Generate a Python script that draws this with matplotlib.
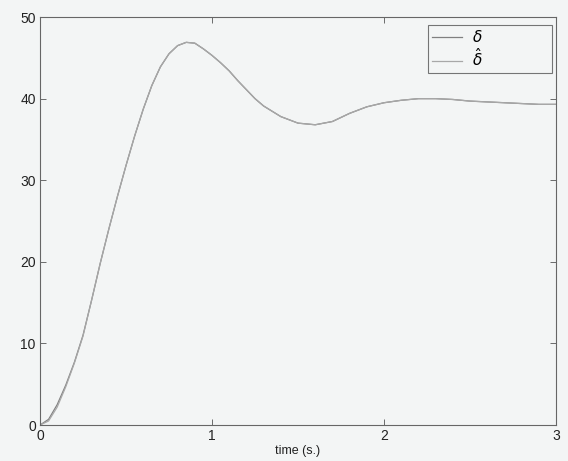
import numpy as np
import matplotlib.pyplot as plt

plt.rcParams['font.family'] = ['Liberation Sans', 'DejaVu Sans']

# time (s.) and the two responses
t = [0, 0.05, 0.1, 0.15, 0.2, 0.25, 0.3, 0.35, 0.4, 0.45, 0.5, 0.55, 0.6,
     0.65, 0.7, 0.75, 0.8, 0.85, 0.9, 0.95, 1.0, 1.05, 1.1, 1.15, 1.2, 1.25,
     1.3, 1.4, 1.5, 1.6, 1.7, 1.8, 1.9, 2.0, 2.1, 2.2, 2.3, 2.4, 2.5, 2.6,
     2.7, 2.8, 2.9, 3.0]
delta = [0, 0.7, 2.5, 4.9, 7.7, 11.0, 15.3, 19.8, 24.0, 28.0, 31.8, 35.4, 38.7,
         41.6, 43.9, 45.5, 46.5, 46.9, 46.8, 46.1, 45.3, 44.4, 43.4, 42.2,
         41.1, 40.0, 39.1, 37.8, 37.0, 36.8, 37.2, 38.2, 39.0, 39.5, 39.8,
         40.0, 40.0, 39.9, 39.7, 39.6, 39.5, 39.4, 39.3, 39.3]
delta_hat = [0, 0.5, 2.2, 4.7, 7.6, 10.9, 15.3, 19.8, 24.0, 28.0, 31.8, 35.4, 38.7,
             41.6, 43.9, 45.5, 46.5, 46.9, 46.8, 46.1, 45.3, 44.4, 43.4, 42.2,
             41.1, 40.0, 39.1, 37.8, 37.0, 36.8, 37.2, 38.2, 39.0, 39.5, 39.8,
             40.0, 40.0, 39.9, 39.7, 39.6, 39.5, 39.4, 39.3, 39.3]

bg = '#f3f5f5'
fig = plt.figure(figsize=(5.68, 4.61), dpi=100, facecolor=bg)
ax = fig.add_axes([0.0704, 0.078, 0.9086, 0.885])
ax.set_facecolor(bg)

ax.plot(t, delta, color='#808080', lw=0.9, label=r'$\delta$')
ax.plot(t, delta_hat, color='#a8a8a8', lw=0.9, label=r'$\hat{\delta}$')

ax.set_xlim(0, 3)
ax.set_ylim(0, 50)
ax.set_xticks([0, 1, 2, 3])
ax.set_yticks([0, 10, 20, 30, 40, 50])
ax.tick_params(direction='in', top=True, right=True, length=4, width=0.6,
               color='#555555', labelsize=10, labelcolor='#222222', pad=3)
for s in ax.spines.values():
    s.set_color('#666666')
    s.set_linewidth(0.8)
ax.set_xlabel('time (s.)', fontsize=9, color='#222222', labelpad=1)

leg = ax.legend(loc='upper left', bbox_to_anchor=(0.752, 0.875, 0.24, 0.105),
                mode='expand', fontsize=11, frameon=True, fancybox=False,
                handlelength=2.0, handletextpad=0.6, borderaxespad=0,
                borderpad=0.25, labelspacing=0.15, facecolor=bg)
leg.get_frame().set_edgecolor('#555555')
leg.get_frame().set_linewidth(0.8)

fig.savefig('out.png', dpi=100, facecolor=fig.get_facecolor())
